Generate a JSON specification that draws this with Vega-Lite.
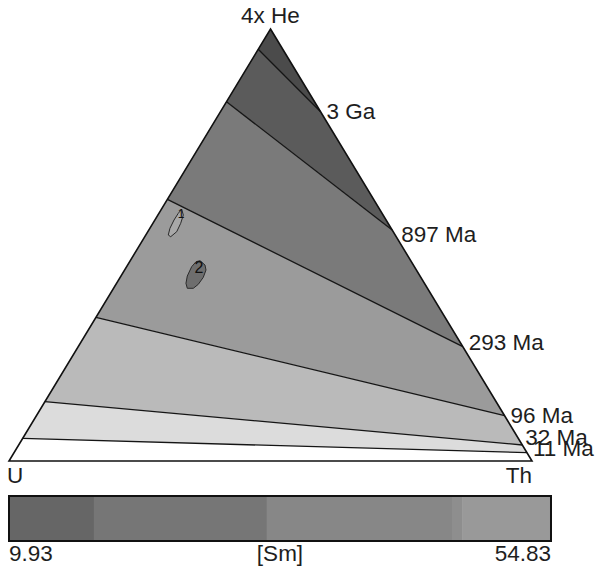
{
  "$schema": "https://vega.github.io/schema/vega-lite/v6.json",
  "padding": 0,
  "spacing": 0,
  "bounds": "flush",
  "background": "white",
  "config": {
    "view": {"stroke": null},
    "font": "Liberation Sans",
    "text": {"font": "Liberation Sans", "fontSize": 22.5, "color": "#1e1e1e"}
  },
  "datasets": {
    "bands": [
      {"band": "b0", "seq": 0, "th": 0, "he": 1},
      {"band": "b0", "seq": 1, "th": 0.1914, "he": 0.8086},
      {"band": "b0", "seq": 2, "th": 0, "he": 0.953},
      {"band": "b1", "seq": 0, "th": 0, "he": 0.953},
      {"band": "b1", "seq": 1, "th": 0.1914, "he": 0.8086},
      {"band": "b1", "seq": 2, "th": 0.4653, "he": 0.5347},
      {"band": "b1", "seq": 3, "th": 0, "he": 0.8317},
      {"band": "b2", "seq": 0, "th": 0, "he": 0.8317},
      {"band": "b2", "seq": 1, "th": 0.4653, "he": 0.5347},
      {"band": "b2", "seq": 2, "th": 0.7354, "he": 0.2646},
      {"band": "b2", "seq": 3, "th": 0, "he": 0.6058},
      {"band": "b3", "seq": 0, "th": 0, "he": 0.6058},
      {"band": "b3", "seq": 1, "th": 0.7354, "he": 0.2646},
      {"band": "b3", "seq": 2, "th": 0.8951, "he": 0.1049},
      {"band": "b3", "seq": 3, "th": 0, "he": 0.3326},
      {"band": "b4", "seq": 0, "th": 0, "he": 0.3326},
      {"band": "b4", "seq": 1, "th": 0.8951, "he": 0.1049},
      {"band": "b4", "seq": 2, "th": 0.963, "he": 0.037},
      {"band": "b4", "seq": 3, "th": 0, "he": 0.1373},
      {"band": "b5", "seq": 0, "th": 0, "he": 0.1373},
      {"band": "b5", "seq": 1, "th": 0.963, "he": 0.037},
      {"band": "b5", "seq": 2, "th": 0.9808, "he": 0.0192},
      {"band": "b5", "seq": 3, "th": 0, "he": 0.0525},
      {"band": "b6", "seq": 0, "th": 0, "he": 0.0525},
      {"band": "b6", "seq": 1, "th": 0.9808, "he": 0.0192},
      {"band": "b6", "seq": 2, "th": 1, "he": 0},
      {"band": "b6", "seq": 3, "th": 0, "he": 0}
    ],
    "isochrons": [
      {"age": "3 Ga", "he_u": 0.953, "he_th": 0.8086},
      {"age": "897 Ma", "he_u": 0.8317, "he_th": 0.5347},
      {"age": "293 Ma", "he_u": 0.6058, "he_th": 0.2646},
      {"age": "96 Ma", "he_u": 0.3326, "he_th": 0.1049},
      {"age": "32 Ma", "he_u": 0.1373, "he_th": 0.037},
      {"age": "11 Ma", "he_u": 0.0525, "he_th": 0.0192}
    ],
    "vertices": [
      {"name": "4x He", "seq": 0, "th": 0, "he": 1},
      {"name": "Th", "seq": 1, "th": 1, "he": 0},
      {"name": "U", "seq": 2, "th": 0, "he": 0}
    ],
    "grains": [
      {"grain": "1", "seq": 0, "th": 0.0389, "he": 0.5826},
      {"grain": "1", "seq": 1, "th": 0.0486, "he": 0.5694},
      {"grain": "1", "seq": 2, "th": 0.0532, "he": 0.5502},
      {"grain": "1", "seq": 3, "th": 0.0553, "he": 0.5308},
      {"grain": "1", "seq": 4, "th": 0.0496, "he": 0.5192},
      {"grain": "1", "seq": 5, "th": 0.043, "he": 0.5231},
      {"grain": "1", "seq": 6, "th": 0.0384, "he": 0.5387},
      {"grain": "1", "seq": 7, "th": 0.0366, "he": 0.5579},
      {"grain": "1", "seq": 8, "th": 0.037, "he": 0.5734},
      {"grain": "2", "seq": 0, "th": 0.1334, "he": 0.4637},
      {"grain": "2", "seq": 1, "th": 0.1479, "he": 0.4537},
      {"grain": "2", "seq": 2, "th": 0.1556, "he": 0.4421},
      {"grain": "2", "seq": 3, "th": 0.1589, "he": 0.4252},
      {"grain": "2", "seq": 4, "th": 0.1575, "he": 0.409},
      {"grain": "2", "seq": 5, "th": 0.1525, "he": 0.3998},
      {"grain": "2", "seq": 6, "th": 0.141, "he": 0.3998},
      {"grain": "2", "seq": 7, "th": 0.1327, "he": 0.4113},
      {"grain": "2", "seq": 8, "th": 0.1268, "he": 0.4282},
      {"grain": "2", "seq": 9, "th": 0.1244, "he": 0.4498},
      {"grain": "2", "seq": 10, "th": 0.1269, "he": 0.4613}
    ],
    "grain_labels": [
      {"grain": "1", "th": 0.043, "he": 0.5718},
      {"grain": "2", "th": 0.1399, "he": 0.4468}
    ],
    "sm_bins": [
      {"bin": "s1", "lo": 9.93, "hi": 16.97},
      {"bin": "s2", "lo": 16.97, "hi": 31.3},
      {"bin": "s3", "lo": 31.3, "hi": 46.63},
      {"bin": "s4", "lo": 46.63, "hi": 47.46},
      {"bin": "s5", "lo": 47.46, "hi": 54.83}
    ],
    "sm_range": [{"min": 9.93, "max": 54.83}]
  },
  "vconcat": [
    {
      "width": 597,
      "height": 480,
      "encoding": {
        "x": {"field": "px", "type": "quantitative", "axis": null,
              "scale": {"domain": [-0.017208, 1.124283], "nice": false, "zero": false}},
        "y": {"field": "py", "type": "quantitative", "axis": null,
              "scale": {"domain": [-0.043981, 1.06713], "nice": false, "zero": false}}
      },
      "resolve": {"scale": {"fill": "independent"}},
      "layer": [
        {
          "data": {"name": "bands"},
          "transform": [
            {"calculate": "datum.th + datum.he / 2", "as": "px"},
            {"calculate": "datum.he", "as": "py"}
          ],
          "mark": {"type": "line", "interpolate": "linear-closed", "strokeWidth": 0},
          "encoding": {
            "order": {"field": "seq", "type": "quantitative"},
            "detail": {"field": "band", "type": "nominal"},
            "fill": {"field": "band", "type": "nominal", "legend": null,
                     "scale": {"domain": ["b0", "b1", "b2", "b3", "b4", "b5", "b6"],
                               "range": ["#4b4b4b", "#5b5b5b", "#7a7a7a", "#9b9b9b", "#bababa", "#dcdcdc", "#ffffff"]}}
          }
        },
        {
          "data": {"name": "grains"},
          "transform": [
            {"calculate": "datum.th + datum.he / 2", "as": "px"},
            {"calculate": "datum.he", "as": "py"}
          ],
          "mark": {"type": "line", "interpolate": "linear-closed", "stroke": "#2a2a2a", "strokeWidth": 1},
          "encoding": {
            "order": {"field": "seq", "type": "quantitative"},
            "detail": {"field": "grain", "type": "nominal"},
            "fill": {"field": "grain", "type": "nominal", "legend": null,
                     "scale": {"domain": ["1", "2"], "range": ["#a8a8a8", "#6e6e6e"]}}
          }
        },
        {
          "data": {"name": "isochrons"},
          "transform": [
            {"calculate": "datum.he_u / 2", "as": "px"},
            {"calculate": "datum.he_u", "as": "py"},
            {"calculate": "1 - datum.he_th / 2", "as": "px2"},
            {"calculate": "datum.he_th", "as": "py2"}
          ],
          "mark": {"type": "rule", "stroke": "#151515", "strokeWidth": 1.3},
          "encoding": {
            "x2": {"field": "px2"},
            "y2": {"field": "py2"}
          }
        },
        {
          "data": {"name": "vertices"},
          "transform": [
            {"calculate": "datum.th + datum.he / 2", "as": "px"},
            {"calculate": "datum.he", "as": "py"}
          ],
          "mark": {"type": "line", "interpolate": "linear-closed", "stroke": "#111111", "strokeWidth": 1.6, "fill": null},
          "encoding": {
            "order": {"field": "seq", "type": "quantitative"}
          }
        },
        {
          "data": {"name": "isochrons"},
          "transform": [
            {"filter": "datum.age == '3 Ga' || datum.age == '96 Ma'"},
            {"calculate": "1 - datum.he_th / 2", "as": "px"},
            {"calculate": "datum.he_th", "as": "py"}
          ],
          "mark": {"type": "text", "align": "left", "baseline": "middle", "dx": 6, "dy": 0},
          "encoding": {"text": {"field": "age"}}
        },
        {
          "data": {"name": "isochrons"},
          "transform": [
            {"filter": "datum.age == '897 Ma'"},
            {"calculate": "1 - datum.he_th / 2", "as": "px"},
            {"calculate": "datum.he_th", "as": "py"}
          ],
          "mark": {"type": "text", "align": "left", "baseline": "middle", "dx": 9, "dy": 5},
          "encoding": {"text": {"field": "age"}}
        },
        {
          "data": {"name": "isochrons"},
          "transform": [
            {"filter": "datum.age == '293 Ma' || datum.age == '11 Ma'"},
            {"calculate": "1 - datum.he_th / 2", "as": "px"},
            {"calculate": "datum.he_th", "as": "py"}
          ],
          "mark": {"type": "text", "align": "left", "baseline": "middle", "dx": 6, "dy": -4},
          "encoding": {"text": {"field": "age"}}
        },
        {
          "data": {"name": "isochrons"},
          "transform": [
            {"filter": "datum.age == '32 Ma'"},
            {"calculate": "1 - datum.he_th / 2", "as": "px"},
            {"calculate": "datum.he_th", "as": "py"}
          ],
          "mark": {"type": "text", "align": "left", "baseline": "middle", "dx": 3, "dy": -7},
          "encoding": {"text": {"field": "age"}}
        },
        {
          "data": {"name": "vertices"},
          "transform": [
            {"filter": "datum.name == '4x He'"},
            {"calculate": "datum.th + datum.he / 2", "as": "px"},
            {"calculate": "datum.he", "as": "py"}
          ],
          "mark": {"type": "text", "align": "center", "baseline": "alphabetic", "dy": -6},
          "encoding": {"text": {"field": "name"}}
        },
        {
          "data": {"name": "vertices"},
          "transform": [
            {"filter": "datum.name == 'U'"},
            {"calculate": "datum.th + datum.he / 2", "as": "px"},
            {"calculate": "datum.he", "as": "py"}
          ],
          "mark": {"type": "text", "align": "left", "baseline": "alphabetic", "dx": -2, "dy": 22},
          "encoding": {"text": {"field": "name"}}
        },
        {
          "data": {"name": "vertices"},
          "transform": [
            {"filter": "datum.name == 'Th'"},
            {"calculate": "datum.th + datum.he / 2", "as": "px"},
            {"calculate": "datum.he", "as": "py"}
          ],
          "mark": {"type": "text", "align": "right", "baseline": "alphabetic", "dx": 0, "dy": 22},
          "encoding": {"text": {"field": "name"}}
        },
        {
          "data": {"name": "grain_labels"},
          "transform": [
            {"calculate": "datum.th + datum.he / 2", "as": "px"},
            {"calculate": "datum.he", "as": "py"}
          ],
          "mark": {"type": "text", "align": "center", "baseline": "middle", "color": "#101010"},
          "encoding": {
            "text": {"field": "grain"},
            "size": {"field": "grain", "type": "nominal", "legend": null,
                     "scale": {"domain": ["1", "2"], "range": [12, 16]}}
          }
        }
      ]
    },
    {
      "width": 597,
      "height": 86,
      "encoding": {
        "y": {"datum": 0, "type": "quantitative", "axis": null,
              "scale": {"domain": [-0.5556, 1.3556], "nice": false, "zero": false}}
      },
      "layer": [
        {
          "data": {"name": "sm_bins"},
          "mark": {"type": "rect"},
          "encoding": {
            "x": {"field": "lo", "type": "quantitative", "axis": null,
                  "scale": {"domain": [9.1844, 58.641], "nice": false, "zero": false}},
            "x2": {"field": "hi"},
            "y2": {"datum": 1},
            "color": {"field": "bin", "type": "nominal", "legend": null,
                      "scale": {"domain": ["s1", "s2", "s3", "s4", "s5"],
                                "range": ["#666666", "#767676", "#878787", "#8e8e8e", "#999999"]}}
          }
        },
        {
          "data": {"name": "sm_range"},
          "mark": {"type": "rect", "fill": null, "stroke": "#111111", "strokeWidth": 2},
          "encoding": {
            "x": {"field": "min", "type": "quantitative", "axis": null},
            "x2": {"field": "max"},
            "y2": {"datum": 1}
          }
        },
        {
          "data": {"name": "sm_range"},
          "mark": {"type": "text", "align": "left", "baseline": "alphabetic", "dy": 20},
          "encoding": {
            "x": {"field": "min", "type": "quantitative", "axis": null},
            "text": {"field": "min", "type": "quantitative", "format": ".2f"}
          }
        },
        {
          "data": {"name": "sm_range"},
          "mark": {"type": "text", "align": "right", "baseline": "alphabetic", "dy": 20},
          "encoding": {
            "x": {"field": "max", "type": "quantitative", "axis": null},
            "text": {"field": "max", "type": "quantitative", "format": ".2f"}
          }
        },
        {
          "data": {"name": "sm_range"},
          "transform": [{"calculate": "(datum.min + datum.max) / 2", "as": "mid"}],
          "mark": {"type": "text", "align": "center", "baseline": "alphabetic", "dy": 20},
          "encoding": {
            "x": {"field": "mid", "type": "quantitative", "axis": null},
            "text": {"value": "[Sm]"}
          }
        }
      ]
    }
  ]
}
